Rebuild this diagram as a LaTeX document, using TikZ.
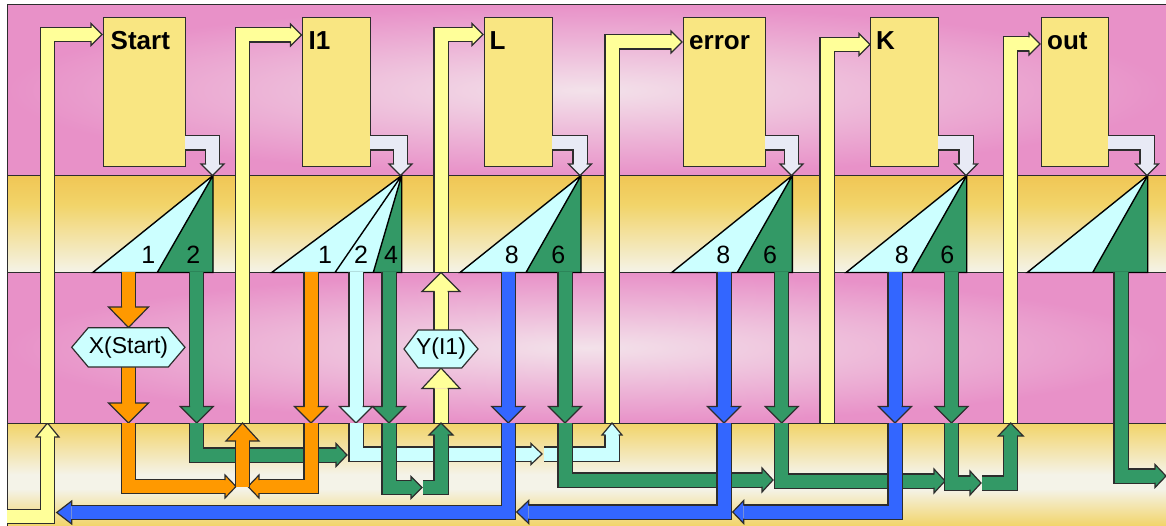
\documentclass[tikz,border=0pt]{standalone}
\usepackage{fontspec}
\setmainfont{Liberation Sans}
\definecolor{pinkD}{RGB}{232,145,200}
\definecolor{pinkL}{RGB}{243,226,234}
\definecolor{goldD}{RGB}{240,198,85}
\definecolor{goldM}{RGB}{242,212,105}
\definecolor{goldL}{RGB}{244,243,232}
\definecolor{boxY}{RGB}{249,230,130}
\definecolor{cyanL}{RGB}{204,255,255}
\definecolor{grnD}{RGB}{51,153,102}
\definecolor{bluA}{RGB}{51,102,255}
\definecolor{oraA}{RGB}{255,153,0}
\definecolor{yelA}{RGB}{255,255,153}
\definecolor{grayA}{RGB}{232,234,245}
\definecolor{outl}{RGB}{45,45,45}
\pgfdeclareverticalshading{botband}{100bp}{color(0bp)=(goldM); color(25bp)=(goldM); color(43bp)=(goldL); color(50bp)=(goldL); color(75bp)=(goldM); color(100bp)=(goldM)}
\pgfdeclareverticalshading{topband}{100bp}{color(0bp)=(goldL); color(25bp)=(goldL); color(60bp)=(goldM); color(75bp)=(goldD); color(100bp)=(goldD)}
% pipe: colour, path
\newcommand\pipe[2]{\draw[outl,line width=15.4pt] #2; \draw[#1,line width=13pt] #2;}
% arrow heads: colour, tip x, tip y, width, length
\newcommand\hR[5]{\fill[#1] (#2,#3) -- (#2-#5,#3-#4/2) -- (#2-#5,#3+#4/2) -- cycle;
 \draw[outl,line width=1.2pt] (#2-#5,#3-6.5) -- (#2-#5,#3-#4/2) -- (#2,#3) -- (#2-#5,#3+#4/2) -- (#2-#5,#3+6.5);}
\newcommand\hL[5]{\fill[#1] (#2,#3) -- (#2+#5,#3-#4/2) -- (#2+#5,#3+#4/2) -- cycle;
 \draw[outl,line width=1.2pt] (#2+#5,#3-6.5) -- (#2+#5,#3-#4/2) -- (#2,#3) -- (#2+#5,#3+#4/2) -- (#2+#5,#3+6.5);}
\newcommand\hU[5]{\fill[#1] (#2,#3) -- (#2-#4/2,#3+#5) -- (#2+#4/2,#3+#5) -- cycle;
 \draw[outl,line width=1.2pt] (#2-6.5,#3+#5) -- (#2-#4/2,#3+#5) -- (#2,#3) -- (#2+#4/2,#3+#5) -- (#2+6.5,#3+#5);}
\newcommand\hD[5]{\fill[#1] (#2,#3) -- (#2-#4/2,#3-#5) -- (#2+#4/2,#3-#5) -- cycle;
 \draw[outl,line width=1.2pt] (#2-6.5,#3-#5) -- (#2-#4/2,#3-#5) -- (#2,#3) -- (#2+#4/2,#3-#5) -- (#2+6.5,#3-#5);}
\begin{document}
\begin{tikzpicture}[x=1pt,y=-1pt,line join=miter,
  boxst/.style={draw=outl,line width=1.2pt,fill=boxY,minimum height=149pt,inner sep=0pt,anchor=north west},
  lbl/.style={anchor=base west,inner sep=0pt,font=\fontsize{26pt}{30pt}\selectfont\bfseries},
  dig/.style={anchor=base,inner sep=0pt,font=\fontsize{25pt}{30pt}\selectfont},
  hexa/.style={fill=cyanL,draw=outl,line width=1.2pt},
  htext/.style={inner sep=0pt,font=\fontsize{23pt}{28pt}\selectfont},
  tri/.style={draw=black,line width=1.4pt},
  bandline/.style={draw=outl,line width=1pt}]
\useasboundingbox (0,0) rectangle (1166,526);
\fill[white] (0,0) rectangle (1166,526);
% ---------- bands ----------
\shade[inner color=pinkL,outer color=pinkD] (7.3,5) rectangle (1166,175.5);
\shade[shading=topband] (7.3,175.5) rectangle (1166,272.5);
\shade[inner color=pinkL,outer color=pinkD] (7.3,272.5) rectangle (1166,423);
\shade[shading=botband] (7.3,423) rectangle (1166,526);
\draw[bandline] (7.3,526) -- (7.3,5) -- (1166,5);
\draw[bandline] (7.3,175.5) -- (1166,175.5);
\draw[bandline] (7.3,272.5) -- (1166,272.5);
\draw[bandline] (7.3,423) -- (1166,423);
% ---------- boxes ----------
\node[boxst,minimum width=82pt] (bStart) at (103,17) {};
\node[boxst,minimum width=68pt] (bI) at (302,17) {};
\node[boxst,minimum width=68pt] (bL) at (484,17) {};
\node[boxst,minimum width=82pt] (bErr) at (683,17) {};
\node[boxst,minimum width=68pt] (bK) at (870,17) {};
\node[boxst,minimum width=67pt] (bOut) at (1041,17) {};
\node[lbl] (tStart) at (110.5,49.3) {Start};
\node[lbl] (tI) at (308.5,49.3) {I1};
\node[lbl] (tL) at (489.5,49.3) {L};
\node[lbl] (tErr) at (689,49.3) {error};
\node[lbl] (tK) at (876,49.3) {K};
\node[lbl] (tOut) at (1047,49.3) {out};
% ---------- triangles ----------
\fill[cyanL] (92.7,272.5) -- (157.3,272.5) -- (213,175.5) -- cycle;
\fill[grnD] (157.3,272.5) -- (213,272.5) -- (213,175.5) -- cycle;
\draw[tri] (92.7,272.5) -- (213,272.5) -- (213,175.5) -- cycle (157.3,272.5) -- (213,175.5);
\fill[cyanL] (271.7,272.5) -- (373.3,272.5) -- (401.7,175.5) -- cycle;
\fill[grnD] (373.3,272.5) -- (401.7,272.5) -- (401.7,175.5) -- cycle;
\draw[tri] (271.7,272.5) -- (401.7,272.5) -- (401.7,175.5) -- cycle (335,272.5) -- (401.7,175.5) (373.3,272.5) -- (401.7,175.5);
\fill[cyanL] (460,272.5) -- (526,272.5) -- (581,175.5) -- cycle;
\fill[grnD] (526,272.5) -- (581,272.5) -- (581,175.5) -- cycle;
\draw[tri] (460,272.5) -- (581,272.5) -- (581,175.5) -- cycle (526,272.5) -- (581,175.5);
\fill[cyanL] (671.7,272.5) -- (737.3,272.5) -- (792.3,175.5) -- cycle;
\fill[grnD] (737.3,272.5) -- (792.3,272.5) -- (792.3,175.5) -- cycle;
\draw[tri] (671.7,272.5) -- (792.3,272.5) -- (792.3,175.5) -- cycle (737.3,272.5) -- (792.3,175.5);
\fill[cyanL] (846,272.5) -- (911.7,272.5) -- (966.7,175.5) -- cycle;
\fill[grnD] (911.7,272.5) -- (966.7,272.5) -- (966.7,175.5) -- cycle;
\draw[tri] (846,272.5) -- (966.7,272.5) -- (966.7,175.5) -- cycle (911.7,272.5) -- (966.7,175.5);
\fill[cyanL] (1027.3,272.5) -- (1092.7,272.5) -- (1147.7,175.5) -- cycle;
\fill[grnD] (1092.7,272.5) -- (1147.7,272.5) -- (1147.7,175.5) -- cycle;
\draw[tri] (1027.3,272.5) -- (1147.7,272.5) -- (1147.7,175.5) -- cycle (1092.7,272.5) -- (1147.7,175.5);
\node[dig] (d1) at (148.3,263.5) {1};
\node[dig] (d2) at (193.3,263.5) {2};
\node[dig] (d3) at (325,263.5) {1};
\node[dig] (d4) at (361,263.5) {2};
\node[dig] (d5) at (391,263.5) {4};
\node[dig] (d6) at (511.7,263.5) {8};
\node[dig] (d7) at (558.3,263.5) {6};
\node[dig] (d8) at (723.3,263.5) {8};
\node[dig] (d9) at (770,263.5) {6};
\node[dig] (d10) at (901.7,263.5) {8};
\node[dig] (d11) at (947.3,263.5) {6};
% ---------- gray arrows box -> triangle ----------
\pipe{grayA}{(185,143) -- (212.5,143) -- (212.5,164)} \hD{grayA}{212.5}{175.5}{23}{11.5}
\pipe{grayA}{(370,143) -- (400.5,143) -- (400.5,164)} \hD{grayA}{400.5}{175.5}{23}{11.5}
\pipe{grayA}{(552,143) -- (580,143) -- (580,164)} \hD{grayA}{580}{175.5}{23}{11.5}
\pipe{grayA}{(765,143) -- (791.5,143) -- (791.5,164)} \hD{grayA}{791.5}{175.5}{23}{11.5}
\pipe{grayA}{(938,143) -- (966,143) -- (966,164)} \hD{grayA}{966}{175.5}{23}{11.5}
\pipe{grayA}{(1108,143) -- (1147,143) -- (1147,164)} \hD{grayA}{1147}{175.5}{23}{11.5}
% ---------- yellow feeds ----------
\pipe{yelA}{(7.3,516.5) -- (47.5,516.5) -- (47.5,437)} \hU{yelA}{47.5}{423}{23}{14}
\pipe{yelA}{(47.5,423) -- (47.5,34.5) -- (91,34.5)} \hR{yelA}{102}{34.5}{22}{11}
\pipe{yelA}{(242.5,423) -- (242.5,35) -- (290.5,35)} \hR{yelA}{301.5}{35}{22}{11}
\pipe{yelA}{(441,272.5) -- (441,34.5) -- (472,34.5)} \hR{yelA}{483}{34.5}{22}{11}
\pipe{yelA}{(612,423) -- (612,42) -- (671,42)} \hR{yelA}{682}{42}{22}{11}
\pipe{yelA}{(827,423) -- (827,44.5) -- (859,44.5)} \hR{yelA}{870}{44.5}{22}{11}
\pipe{yelA}{(1010.7,423) -- (1010.7,44) -- (1029,44)} \hR{yelA}{1040}{44}{22}{11}
\pipe{yelA}{(441,423) -- (441,388.5)} \hU{yelA}{441}{368}{38}{20.5}
\pipe{yelA}{(441,330) -- (441,291.5)} \hU{yelA}{441}{272.5}{38}{19}
% ---------- orange ----------
\pipe{oraA}{(128.5,272.5) -- (128.5,307)} \hD{oraA}{128.5}{327.5}{40}{20.5}
\pipe{oraA}{(128.5,367) -- (128.5,403)} \hD{oraA}{128.5}{423}{40}{20}
\pipe{oraA}{(311,272.5) -- (311,406.5)} \hD{oraA}{311}{423}{33}{16.5}
% ---------- green down ----------
\pipe{grnD}{(196.7,272.5) -- (196.7,406.5)} \hD{grnD}{196.7}{423}{33}{16.5}
\pipe{grnD}{(389,272.5) -- (389,406.5)} \hD{grnD}{389}{423}{33}{16.5}
\pipe{grnD}{(565,272.5) -- (565,406.5)} \hD{grnD}{565}{423}{33}{16.5}
\pipe{grnD}{(781.7,272.5) -- (781.7,406.5)} \hD{grnD}{781.7}{423}{33}{16.5}
\pipe{grnD}{(951.5,272.5) -- (951.5,406.5)} \hD{grnD}{951.5}{423}{33}{16.5}
% ---------- cyan / blue down ----------
\pipe{cyanL}{(356,272.5) -- (356,406.5)} \hD{cyanL}{356}{423}{33}{16.5}
\pipe{bluA}{(508.3,272.5) -- (508.3,406.5)} \hD{bluA}{508.3}{423}{33}{16.5}
\pipe{bluA}{(724,272.5) -- (724,406.5)} \hD{bluA}{724}{423}{33}{16.5}
\pipe{bluA}{(895,272.5) -- (895,406.5)} \hD{bluA}{895}{423}{33}{16.5}
% ---------- hexagons ----------
\filldraw[hexa] (71.7,347.3) -- (88.3,327.7) -- (168.3,327.7) -- (185,347.3) -- (168.3,367) -- (88.3,367) -- cycle;
\node[htext] (xs) at (128.5,347.3) {X(Start)};
\filldraw[hexa] (404,349) -- (418.3,330) -- (461.7,330) -- (478,349) -- (461.7,368) -- (418.3,368) -- cycle;
\node[htext] (yi) at (441,349) {Y(I1)};
% ---------- bottom band ----------
\pipe{grnD}{(196.7,423) -- (196.7,455) -- (336,455)} \hR{grnD}{347}{455}{23}{11}
\pipe{oraA}{(128.5,423) -- (128.5,486.5) -- (225,486.5)} \hR{oraA}{236}{486.5}{23}{11}
\pipe{oraA}{(311,423) -- (311,486.5) -- (259,486.5)} \hL{oraA}{248}{486.5}{23}{11}
\pipe{oraA}{(242.5,487) -- (242.5,441)} \hU{oraA}{242.5}{423}{33}{18}
\pipe{cyanL}{(356,423) -- (356,454) -- (531,454)} \hR{cyanL}{542}{454}{21}{11}
\pipe{cyanL}{(544,454) -- (612,454) -- (612,435)} \hU{cyanL}{612}{423}{20}{12}
\pipe{grnD}{(389,423) -- (389,487.5) -- (411,487.5)} \hR{grnD}{422}{487.5}{22}{11}
\pipe{grnD}{(423,487.5) -- (441,487.5) -- (441,435)} \hU{grnD}{441}{423}{24}{12}
\pipe{grnD}{(565,423) -- (565,480) -- (762,480)} \hR{grnD}{773}{480}{24}{11}
\pipe{grnD}{(781.7,423) -- (781.7,481) -- (934,481)} \hR{grnD}{945}{481}{24}{11}
\pipe{grnD}{(951.5,423) -- (951.5,483) -- (970,483)} \hR{grnD}{981}{483}{24}{11}
\pipe{grnD}{(982,483) -- (1010.7,483) -- (1010.7,436)} \hU{grnD}{1010.7}{423}{25}{13}
\pipe{grnD}{(1121,272.5) -- (1121,476) -- (1155,476)} \hR{grnD}{1166}{476}{23}{11}
\pipe{bluA}{(508.3,423) -- (508.3,512.5) -- (71.7,512.5)} \hL{bluA}{56.7}{512.5}{23}{15}
\pipe{bluA}{(724,423) -- (724,512) -- (528.7,512)} \hL{bluA}{516.7}{512}{23}{12}
\pipe{bluA}{(895,423) -- (895,512) -- (744,512)} \hL{bluA}{732.7}{512}{23}{11}
\end{tikzpicture}
\end{document}
